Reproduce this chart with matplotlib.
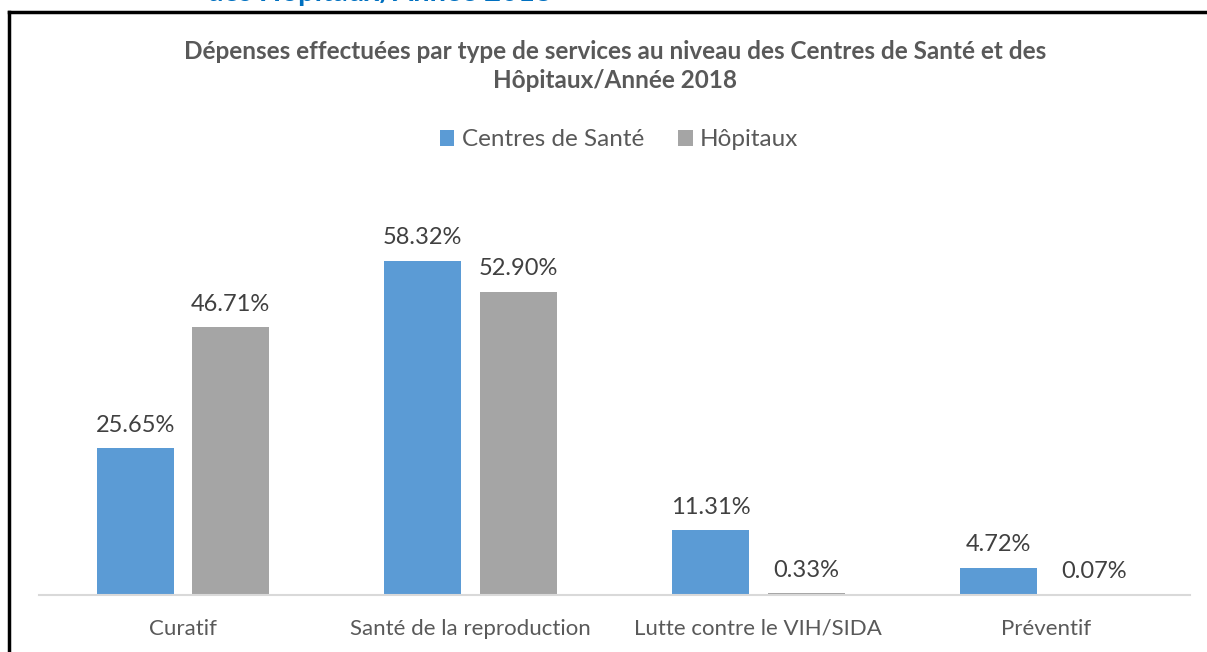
import matplotlib
matplotlib.use("Agg")
import matplotlib.pyplot as plt
import numpy as np
from matplotlib.lines import Line2D

plt.rcParams["font.family"] = ["Lato", "DejaVu Sans"]

categories = ["Curatif", "Santé de la reproduction", "Lutte contre le VIH/SIDA", "Préventif"]
centres = [25.65, 58.32, 11.31, 4.72]
hopitaux = [46.71, 52.90, 0.33, 0.07]
series_names = ["Centres de Santé", "Hôpitaux"]
title = "Dépenses effectuées par type de services au niveau des Centres de Santé et des\nHôpitaux/Année 2018"

BLUE = "#5B9BD5"
GREY = "#A5A5A5"
TXT = "#595959"

W, H = 1207, 652
fig = plt.figure(figsize=(W / 100, H / 100), dpi=100)
ax = fig.add_axes([39 / W, 57 / H, 1151 / W, 401 / H])

x = np.arange(len(categories))
w = 0.267
off = 0.166
b1 = ax.bar(x - off, centres, w, color=BLUE, label=series_names[0])
b2 = ax.bar(x + off, hopitaux, w, color=GREY, label=series_names[1])

for bars, vals in ((b1, centres), (b2, hopitaux)):
    for r, v in zip(bars, vals):
        ax.annotate(f"{v:.2f}%", (r.get_x() + r.get_width() / 2, v),
                    xytext=(0, 9), textcoords="offset points",
                    ha="center", va="bottom", fontsize=17, color="#404040")

ax.set_xlim(-0.5, 3.5)
ax.set_ylim(0, 70)
ax.set_yticks([])
ax.set_xticks(x)
ax.set_xticklabels(categories, fontsize=16, color=TXT)
ax.tick_params(axis="x", length=0, pad=17)
for s in ("top", "right", "left"):
    ax.spines[s].set_visible(False)
ax.spines["bottom"].set_color("#D9D9D9")
ax.spines["bottom"].set_linewidth(1.5)

fig.legend(handles=[b1, b2], loc="center", bbox_to_anchor=(619 / W, 1 - 140 / H),
           ncol=2, frameon=False, fontsize=17.5, handlelength=0.6, handleheight=0.6,
           handletextpad=0.3, columnspacing=1.4, labelcolor=TXT)

fig.text(615 / W, 1 - 66 / H, title, ha="center", va="center", fontsize=17.5,
         fontweight="bold", color=TXT, linespacing=1.35)

# titre du document au-dessus, coupé par le bord
fig.text(379 / W, 1 + 7 / H, "des Hôpitaux/Année 2018", ha="center", va="center",
         fontsize=21, fontweight="bold", color="#0070C0")

# cadre
fig.add_artist(Line2D([9 / W, 1], [1 - 12 / H, 1 - 12 / H], color="black", lw=2.5,
                      transform=fig.transFigure))
fig.add_artist(Line2D([9 / W, 9 / W], [0, 1 - 12 / H], color="black", lw=2.5,
                      transform=fig.transFigure))

fig.savefig("out.png", dpi=100)
